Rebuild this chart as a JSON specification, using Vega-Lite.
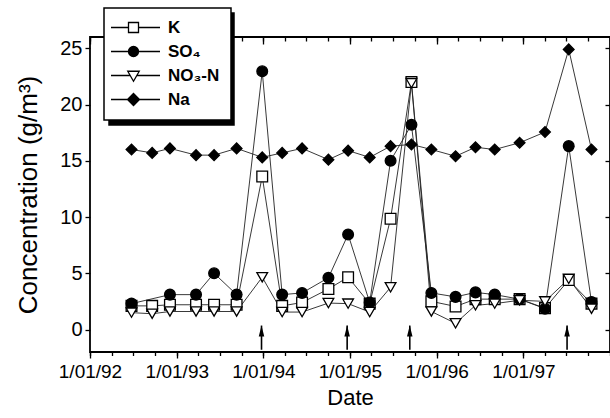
{
  "$schema": "https://vega.github.io/schema/vega-lite/v6.json",
  "width": 520,
  "height": 315,
  "autosize": {"type": "none"},
  "padding": {"left": 90, "top": 37, "right": 0, "bottom": 66},
  "background": "white",
  "config": {
    "font": "Liberation Sans",
    "view": {"stroke": "black", "strokeWidth": 1.8},
    "axis": {"grid": false, "domain": false, "tickColor": "black", "labelColor": "black", "titleColor": "black", "titleFontWeight": "normal", "tickWidth": 1.3},
    "legend": {"strokeWidth": 1.5}
  },
  "datasets": {
    "conc": [
      {"date": "1992-06-24", "series": "K", "value": 2.1},
      {"date": "1992-09-19", "series": "K", "value": 2.1},
      {"date": "1992-12-03", "series": "K", "value": 2.2},
      {"date": "1993-03-23", "series": "K", "value": 2.2},
      {"date": "1993-06-07", "series": "K", "value": 2.2},
      {"date": "1993-09-10", "series": "K", "value": 2.2},
      {"date": "1993-12-27", "series": "K", "value": 13.6},
      {"date": "1994-03-21", "series": "K", "value": 2.1},
      {"date": "1994-06-13", "series": "K", "value": 2.4},
      {"date": "1994-10-02", "series": "K", "value": 3.6},
      {"date": "1994-12-24", "series": "K", "value": 4.65},
      {"date": "1995-03-25", "series": "K", "value": 2.3},
      {"date": "1995-06-21", "series": "K", "value": 9.85},
      {"date": "1995-09-17", "series": "K", "value": 22.0},
      {"date": "1995-12-10", "series": "K", "value": 2.5},
      {"date": "1996-03-21", "series": "K", "value": 2.05},
      {"date": "1996-06-13", "series": "K", "value": 2.7},
      {"date": "1996-09-02", "series": "K", "value": 2.7},
      {"date": "1996-12-16", "series": "K", "value": 2.7},
      {"date": "1997-04-02", "series": "K", "value": 1.9},
      {"date": "1997-07-11", "series": "K", "value": 4.4},
      {"date": "1997-10-15", "series": "K", "value": 2.3},
      {"date": "1992-06-24", "series": "SO₄", "value": 2.3},
      {"date": "1992-12-03", "series": "SO₄", "value": 3.1},
      {"date": "1993-03-23", "series": "SO₄", "value": 3.1},
      {"date": "1993-06-07", "series": "SO₄", "value": 5.0},
      {"date": "1993-09-10", "series": "SO₄", "value": 3.1},
      {"date": "1993-12-27", "series": "SO₄", "value": 22.95},
      {"date": "1994-03-21", "series": "SO₄", "value": 3.1},
      {"date": "1994-06-13", "series": "SO₄", "value": 3.25},
      {"date": "1994-10-02", "series": "SO₄", "value": 4.6},
      {"date": "1994-12-24", "series": "SO₄", "value": 8.45},
      {"date": "1995-03-25", "series": "SO₄", "value": 2.4},
      {"date": "1995-06-21", "series": "SO₄", "value": 15.0},
      {"date": "1995-09-17", "series": "SO₄", "value": 18.2},
      {"date": "1995-12-10", "series": "SO₄", "value": 3.25},
      {"date": "1996-03-21", "series": "SO₄", "value": 2.9},
      {"date": "1996-06-13", "series": "SO₄", "value": 3.3},
      {"date": "1996-09-02", "series": "SO₄", "value": 3.1},
      {"date": "1996-12-16", "series": "SO₄", "value": 2.7},
      {"date": "1997-04-02", "series": "SO₄", "value": 1.85},
      {"date": "1997-07-11", "series": "SO₄", "value": 16.3},
      {"date": "1997-10-15", "series": "SO₄", "value": 2.45},
      {"date": "1992-06-24", "series": "NO₃-N", "value": 1.5},
      {"date": "1992-09-19", "series": "NO₃-N", "value": 1.4},
      {"date": "1992-12-03", "series": "NO₃-N", "value": 1.6},
      {"date": "1993-03-23", "series": "NO₃-N", "value": 1.6},
      {"date": "1993-06-07", "series": "NO₃-N", "value": 1.6},
      {"date": "1993-09-10", "series": "NO₃-N", "value": 1.6},
      {"date": "1993-12-27", "series": "NO₃-N", "value": 4.65},
      {"date": "1994-03-21", "series": "NO₃-N", "value": 1.55},
      {"date": "1994-06-13", "series": "NO₃-N", "value": 1.55},
      {"date": "1994-10-02", "series": "NO₃-N", "value": 2.35},
      {"date": "1994-12-24", "series": "NO₃-N", "value": 2.3},
      {"date": "1995-03-25", "series": "NO₃-N", "value": 1.55},
      {"date": "1995-06-21", "series": "NO₃-N", "value": 3.75},
      {"date": "1995-09-17", "series": "NO₃-N", "value": 21.9},
      {"date": "1995-12-10", "series": "NO₃-N", "value": 1.6},
      {"date": "1996-03-21", "series": "NO₃-N", "value": 0.55},
      {"date": "1996-06-13", "series": "NO₃-N", "value": 2.15},
      {"date": "1996-09-02", "series": "NO₃-N", "value": 2.3},
      {"date": "1996-12-16", "series": "NO₃-N", "value": 2.6},
      {"date": "1997-04-02", "series": "NO₃-N", "value": 2.5},
      {"date": "1997-07-11", "series": "NO₃-N", "value": 4.5},
      {"date": "1997-10-15", "series": "NO₃-N", "value": 1.85},
      {"date": "1992-06-24", "series": "Na", "value": 16.0},
      {"date": "1992-09-19", "series": "Na", "value": 15.7},
      {"date": "1992-12-03", "series": "Na", "value": 16.1},
      {"date": "1993-03-23", "series": "Na", "value": 15.5},
      {"date": "1993-06-07", "series": "Na", "value": 15.5},
      {"date": "1993-09-10", "series": "Na", "value": 16.1},
      {"date": "1993-12-27", "series": "Na", "value": 15.3},
      {"date": "1994-03-21", "series": "Na", "value": 15.7},
      {"date": "1994-06-13", "series": "Na", "value": 16.1},
      {"date": "1994-10-02", "series": "Na", "value": 15.1},
      {"date": "1994-12-24", "series": "Na", "value": 15.9},
      {"date": "1995-03-25", "series": "Na", "value": 15.3},
      {"date": "1995-06-21", "series": "Na", "value": 16.3},
      {"date": "1995-09-17", "series": "Na", "value": 16.45},
      {"date": "1995-12-10", "series": "Na", "value": 16.0},
      {"date": "1996-03-21", "series": "Na", "value": 15.4},
      {"date": "1996-06-13", "series": "Na", "value": 16.2},
      {"date": "1996-09-02", "series": "Na", "value": 16.0},
      {"date": "1996-12-16", "series": "Na", "value": 16.6},
      {"date": "1997-04-02", "series": "Na", "value": 17.55},
      {"date": "1997-07-11", "series": "Na", "value": 24.9},
      {"date": "1997-10-15", "series": "Na", "value": 16.0}
    ],
    "arrows": [
      {"date": "1993-12-24", "tip": 0.35, "base": -1.8},
      {"date": "1994-12-20", "tip": 0.35, "base": -1.8},
      {"date": "1995-09-10", "tip": 0.35, "base": -1.8},
      {"date": "1997-07-04", "tip": 0.35, "base": -1.8}
    ]
  },
  "resolve": {
    "axis": {"x": "independent", "y": "independent"},
    "scale": {"shape": "independent", "fill": "independent", "stroke": "independent"}
  },
  "layer": [
    {
      "data": {"name": "conc"},
      "mark": {"type": "line", "color": "#222", "strokeWidth": 0.9},
      "encoding": {
        "x": {
          "field": "date", "type": "temporal",
          "scale": {"type": "utc", "domain": [{"year": 1992, "month": 1, "date": 1, "utc": true}, {"year": 1998, "month": 1, "date": 1, "utc": true}], "nice": false},
          "axis": {
            "orient": "bottom",
            "values": [
              {"year": 1992, "month": 1, "date": 1, "utc": true},
              {"year": 1993, "month": 1, "date": 1, "utc": true},
              {"year": 1994, "month": 1, "date": 1, "utc": true},
              {"year": 1995, "month": 1, "date": 1, "utc": true},
              {"year": 1996, "month": 1, "date": 1, "utc": true},
              {"year": 1997, "month": 1, "date": 1, "utc": true}
            ],
            "labelExpr": "utcFormat(datum.value, '%-m/%d/%y')",
            "labelFontSize": 19, "labelPadding": 4, "tickSize": 6,
            "labelOverlap": false, "labelFlush": false,
            "title": "Date", "titleFontSize": 22, "titlePadding": 6
          }
        },
        "y": {
          "field": "value", "type": "quantitative",
          "scale": {"domain": [-2, 26], "nice": false, "zero": false},
          "axis": {
            "orient": "left", "values": [0, 5, 10, 15, 20, 25],
            "tickSize": 5, "labelFontSize": 20, "labelPadding": 3,
            "title": "Concentration (g/m³)", "titleFontSize": 26, "titlePadding": 18
          }
        },
        "detail": {"field": "series"}
      }
    },
    {
      "data": {"name": "conc"},
      "mark": {"type": "point", "filled": false, "stroke": "black", "strokeWidth": 1.3, "size": 115, "opacity": 1},
      "encoding": {
        "x": {
          "field": "date", "type": "temporal",
          "scale": {"type": "utc", "domain": [{"year": 1992, "month": 1, "date": 1, "utc": true}, {"year": 1998, "month": 1, "date": 1, "utc": true}], "nice": false},
          "axis": {
            "orient": "top",
            "values": [
              {"year": 1992, "month": 1, "date": 1, "utc": true},
              {"year": 1993, "month": 1, "date": 1, "utc": true},
              {"year": 1994, "month": 1, "date": 1, "utc": true},
              {"year": 1995, "month": 1, "date": 1, "utc": true},
              {"year": 1996, "month": 1, "date": 1, "utc": true},
              {"year": 1997, "month": 1, "date": 1, "utc": true}
            ],
            "labels": false, "tickSize": -7, "title": null
          }
        },
        "y": {
          "field": "value", "type": "quantitative",
          "scale": {"domain": [-2, 26], "nice": false, "zero": false},
          "axis": {"orient": "right", "values": [0, 5, 10, 15, 20, 25], "labels": false, "tickSize": -5, "title": null}
        },
        "shape": {
          "field": "series", "type": "nominal",
          "scale": {"domain": ["K", "SO₄", "NO₃-N", "Na"], "range": ["square", "circle", "triangle-down", "diamond"]},
          "legend": null
        },
        "fill": {
          "field": "series", "type": "nominal",
          "scale": {"domain": ["K", "SO₄", "NO₃-N", "Na"], "range": ["white", "black", "white", "black"]},
          "legend": null
        }
      }
    },
    {
      "data": {"name": "conc"},
      "transform": [{"filter": "false"}],
      "mark": {"type": "point", "filled": false, "strokeWidth": 1.3, "size": 100, "opacity": 1},
      "encoding": {
        "shape": {
          "field": "series", "type": "nominal",
          "scale": {
            "domain": ["K", "SO₄", "NO₃-N", "Na"],
            "range": [
              "M-4.5,0H-1M1,0H5.3M-1,-1H1V1H-1Z",
              "M-4.5,0H-1M1,0H5.3M-1,0A1,1,0,1,1,1,0A1,1,0,1,1,-1,0Z",
              "M-4.5,0H-0.65M0.65,0H5.3M-1.15,-0.85L1.15,-0.85L0,1.15Z",
              "M-4.5,0H-1.2M1.2,0H5.3M0,-1.2L1.2,0L0,1.2L-1.2,0Z"
            ]
          },
          "legend": {
            "orient": "none", "legendX": 19, "legendY": -24,
            "title": null, "padding": 11,
            "fillColor": "black", "strokeColor": "black",
            "labelFontSize": 17, "labelFontWeight": "bold", "labelColor": "black",
            "labelExpr": "' '",
            "symbolSize": 100, "symbolStrokeWidth": 1.3,
            "symbolOffset": 10, "labelOffset": 76, "rowPadding": 6
          }
        },
        "fill": {
          "field": "series", "type": "nominal",
          "scale": {"domain": ["K", "SO₄", "NO₃-N", "Na"], "range": ["black", "black", "black", "black"]}
        },
        "stroke": {
          "field": "series", "type": "nominal",
          "scale": {"domain": ["K", "SO₄", "NO₃-N", "Na"], "range": ["black", "black", "black", "black"]}
        }
      }
    },
    {
      "data": {"name": "conc"},
      "transform": [{"filter": "false"}],
      "mark": {"type": "point", "filled": false, "strokeWidth": 1.3, "size": 100, "opacity": 1},
      "encoding": {
        "shape": {
          "field": "series", "type": "nominal",
          "scale": {
            "domain": ["K", "SO₄", "NO₃-N", "Na"],
            "range": [
              "M-4.5,0H-1M1,0H5.3M-1,-1H1V1H-1Z",
              "M-4.5,0H-1M1,0H5.3M-1,0A1,1,0,1,1,1,0A1,1,0,1,1,-1,0Z",
              "M-4.5,0H-0.65M0.65,0H5.3M-1.15,-0.85L1.15,-0.85L0,1.15Z",
              "M-4.5,0H-1.2M1.2,0H5.3M0,-1.2L1.2,0L0,1.2L-1.2,0Z"
            ]
          },
          "legend": {
            "orient": "none", "legendX": 14, "legendY": -29,
            "title": null, "padding": 11,
            "fillColor": "white", "strokeColor": "black",
            "labelFontSize": 17, "labelFontWeight": "bold", "labelColor": "black",
            "symbolSize": 100, "symbolStrokeWidth": 1.3,
            "symbolOffset": 10, "labelOffset": 26, "rowPadding": 6
          }
        },
        "fill": {
          "field": "series", "type": "nominal",
          "scale": {"domain": ["K", "SO₄", "NO₃-N", "Na"], "range": ["white", "black", "white", "black"]}
        },
        "stroke": {
          "field": "series", "type": "nominal",
          "scale": {"domain": ["K", "SO₄", "NO₃-N", "Na"], "range": ["black", "black", "black", "black"]}
        }
      }
    },
    {
      "data": {"name": "arrows"},
      "mark": {"type": "rule", "color": "black", "strokeWidth": 1.6},
      "encoding": {
        "x": {
          "field": "date", "type": "temporal",
          "scale": {"type": "utc", "domain": [{"year": 1992, "month": 1, "date": 1, "utc": true}, {"year": 1998, "month": 1, "date": 1, "utc": true}], "nice": false},
          "axis": {"orient": "bottom", "tickCount": {"interval": "month", "step": 3}, "labels": false, "tickSize": 3.5, "title": null}
        },
        "y": {"field": "base", "type": "quantitative", "scale": {"domain": [-2, 26], "nice": false, "zero": false}, "axis": null},
        "y2": {"field": "tip"}
      }
    },
    {
      "data": {"name": "arrows"},
      "mark": {"type": "point", "filled": true, "color": "black", "opacity": 1, "size": 100, "shape": "M0,0L0.55,2.2L-0.55,2.2Z"},
      "encoding": {
        "x": {
          "field": "date", "type": "temporal",
          "scale": {"type": "utc", "domain": [{"year": 1992, "month": 1, "date": 1, "utc": true}, {"year": 1998, "month": 1, "date": 1, "utc": true}], "nice": false},
          "axis": {"orient": "top", "tickCount": {"interval": "month", "step": 3}, "labels": false, "tickSize": -4, "title": null}
        },
        "y": {"field": "tip", "type": "quantitative", "scale": {"domain": [-2, 26], "nice": false, "zero": false}, "axis": null}
      }
    }
  ]
}
